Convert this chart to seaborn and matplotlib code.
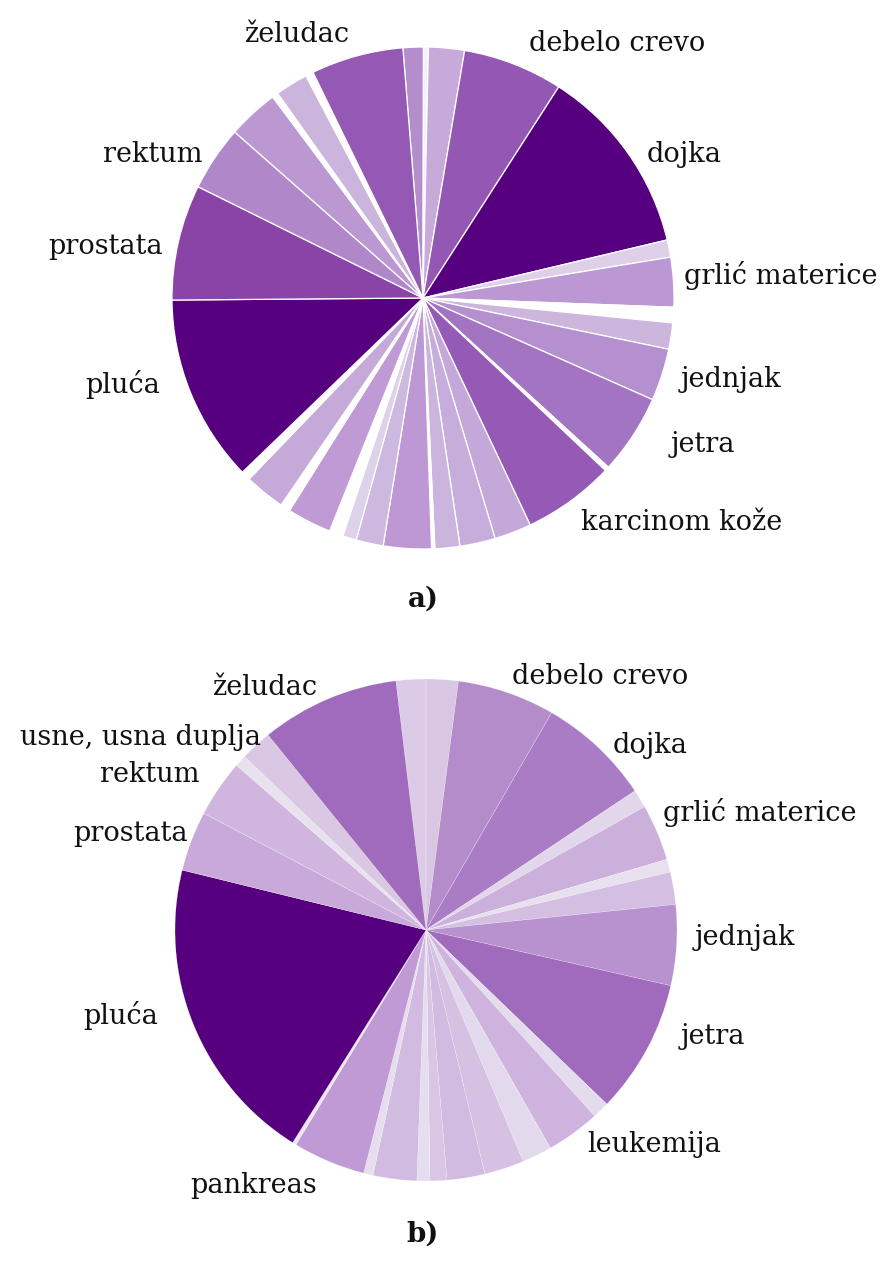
import matplotlib
matplotlib.use("Agg")
import matplotlib.pyplot as plt
import seaborn as sns

# ---------------- data (shares in %, read clockwise from the top) ----------------
a_share = [1.31, 0.31, 2.31, 6.44, 12.19, 1.11, 3.19, 1.00, 1.69, 3.36, 5.14, 0.28,
           5.92, 2.39, 2.28, 1.60, 0.21, 3.08, 1.75, 0.89, 0.89, 2.86, 0.64, 2.61,
           0.61, 12.08, 7.44, 4.19, 3.28, 0.39, 2.11, 0.50, 5.94]
a_names = ["", "", "", "debelo crevo", "dojka", "", "grlić materice", "", "", "jednjak",
           "jetra", "", "karcinom kože", "", "", "", "", "", "", "", "", "", "", "",
           "", "pluća", "prostata", "rektum", "", "", "", "", "želudac"]

b_share = [1.92, 2.06, 6.28, 7.31, 1.17, 3.64, 0.83, 2.08, 5.19, 8.64, 1.08, 3.47,
           1.92, 2.56, 2.44, 1.08, 0.83, 2.81, 0.61, 4.67, 0.25, 19.92, 3.86, 3.69,
           0.75, 2.03, 8.92]
b_names = ["", "", "debelo crevo", "dojka", "", "grlić materice", "", "", "jednjak",
           "jetra", "", "leukemija", "", "", "", "", "", "", "", "pankreas", "",
           "pluća", "prostata", "rektum", "", "usne, usna duplja", "želudac"]

panel_titles = ["a)", "b)"]

# ---------------- styles ----------------
a_colors = ["#b48ecc", "#f6f1f8", "#c7aad9", "#9457b3", "#560080", "#ddd0e8", "#bb97d3",
            "#ffffff", "#cdb6de", "#b590cf", "#a374c1", "#ffffff", "#945ab6", "#c5a8da",
            "#c7addc", "#cbb4de", "#ffffff", "#bd98d4", "#cdb8e0", "#ddd2ea", "#ffffff",
            "#bf9ad5", "#ffffff", "#c5a9d8", "#ffffff", "#560080", "#8a44a8", "#b088ca",
            "#bb98d2", "#ffffff", "#ccb5dd", "#ffffff", "#9459b4"]
b_colors = ["#dccbe6", "#d9c6e3", "#b48cca", "#aa7cc6", "#e2d6eb", "#cbb0dc", "#e8e0ee",
            "#d4bee2", "#b892cf", "#a06abd", "#e4dbec", "#cdb3dd", "#e3d9ec", "#d6c1e3",
            "#d2bbe1", "#d8c6e4", "#e6ddee", "#d2bbe0", "#e6ddee", "#c09ad4", "#ece6f1",
            "#560080", "#c9a8da", "#d0b6df", "#e8e1ee", "#d9c7e4", "#a06abd"]

# label positions in figure pixels (x centre, baseline y from top)
a_label_pos = {"želudac": (298, 42), "debelo crevo": (617, 51), "dojka": (684, 162),
               "rektum": (153, 162), "prostata": (106, 254), "grlić materice": (781, 284),
               "pluća": (123, 393), "jednjak": (731, 387), "jetra": (703, 452),
               "karcinom kože": (682, 530)}
b_label_pos = {"želudac": (265, 695), "debelo crevo": (600, 684),
               "usne, usna duplja": (141, 745), "rektum": (150, 782), "dojka": (650, 753),
               "prostata": (131, 841), "grlić materice": (760, 821), "jednjak": (745, 945),
               "pluća": (121, 1024), "jetra": (713, 1044), "leukemija": (654, 1152),
               "pankreas": (254, 1193)}

W, H = 880, 1267
sns.set_theme(style="white")
plt.rcParams["font.family"] = ["DejaVu Serif", "DejaVu Sans"]

fig = plt.figure(figsize=(W / 100, H / 100), dpi=100)
fig.patch.set_facecolor("white")


def make_pie(cx, cy, r, shares, colors, start_deg, lw):
    ax = fig.add_axes([(cx - r) / W, (H - cy - r) / H, 2 * r / W, 2 * r / H])
    ax.pie(shares, colors=colors, startangle=90 + start_deg, counterclock=False,
           radius=1.0, wedgeprops=dict(edgecolor="white", linewidth=lw))
    ax.set_xlim(-1.0, 1.0)
    ax.set_ylim(-1.0, 1.0)
    ax.set_aspect("equal")
    ax.axis("off")
    return ax


make_pie(423, 298, 251, a_share, a_colors, 4.6, 0.9)
make_pie(426, 930, 251, b_share, b_colors, 6.9, 0.15)

fs = 19.5
for names, pos in ((a_names, a_label_pos), (b_names, b_label_pos)):
    for n in names:
        if n:
            x, y = pos[n]
            fig.text(x / W, 1 - y / H, n, ha="center", va="baseline", fontsize=fs,
                     color="#111111")

for t, (x, y) in zip(panel_titles, [(423, 607), (423, 1242)]):
    fig.text(x / W, 1 - y / H, t, ha="center", va="baseline", fontsize=20,
             fontweight="bold", color="#111111")

fig.savefig("out.png", dpi=100, facecolor="white")
